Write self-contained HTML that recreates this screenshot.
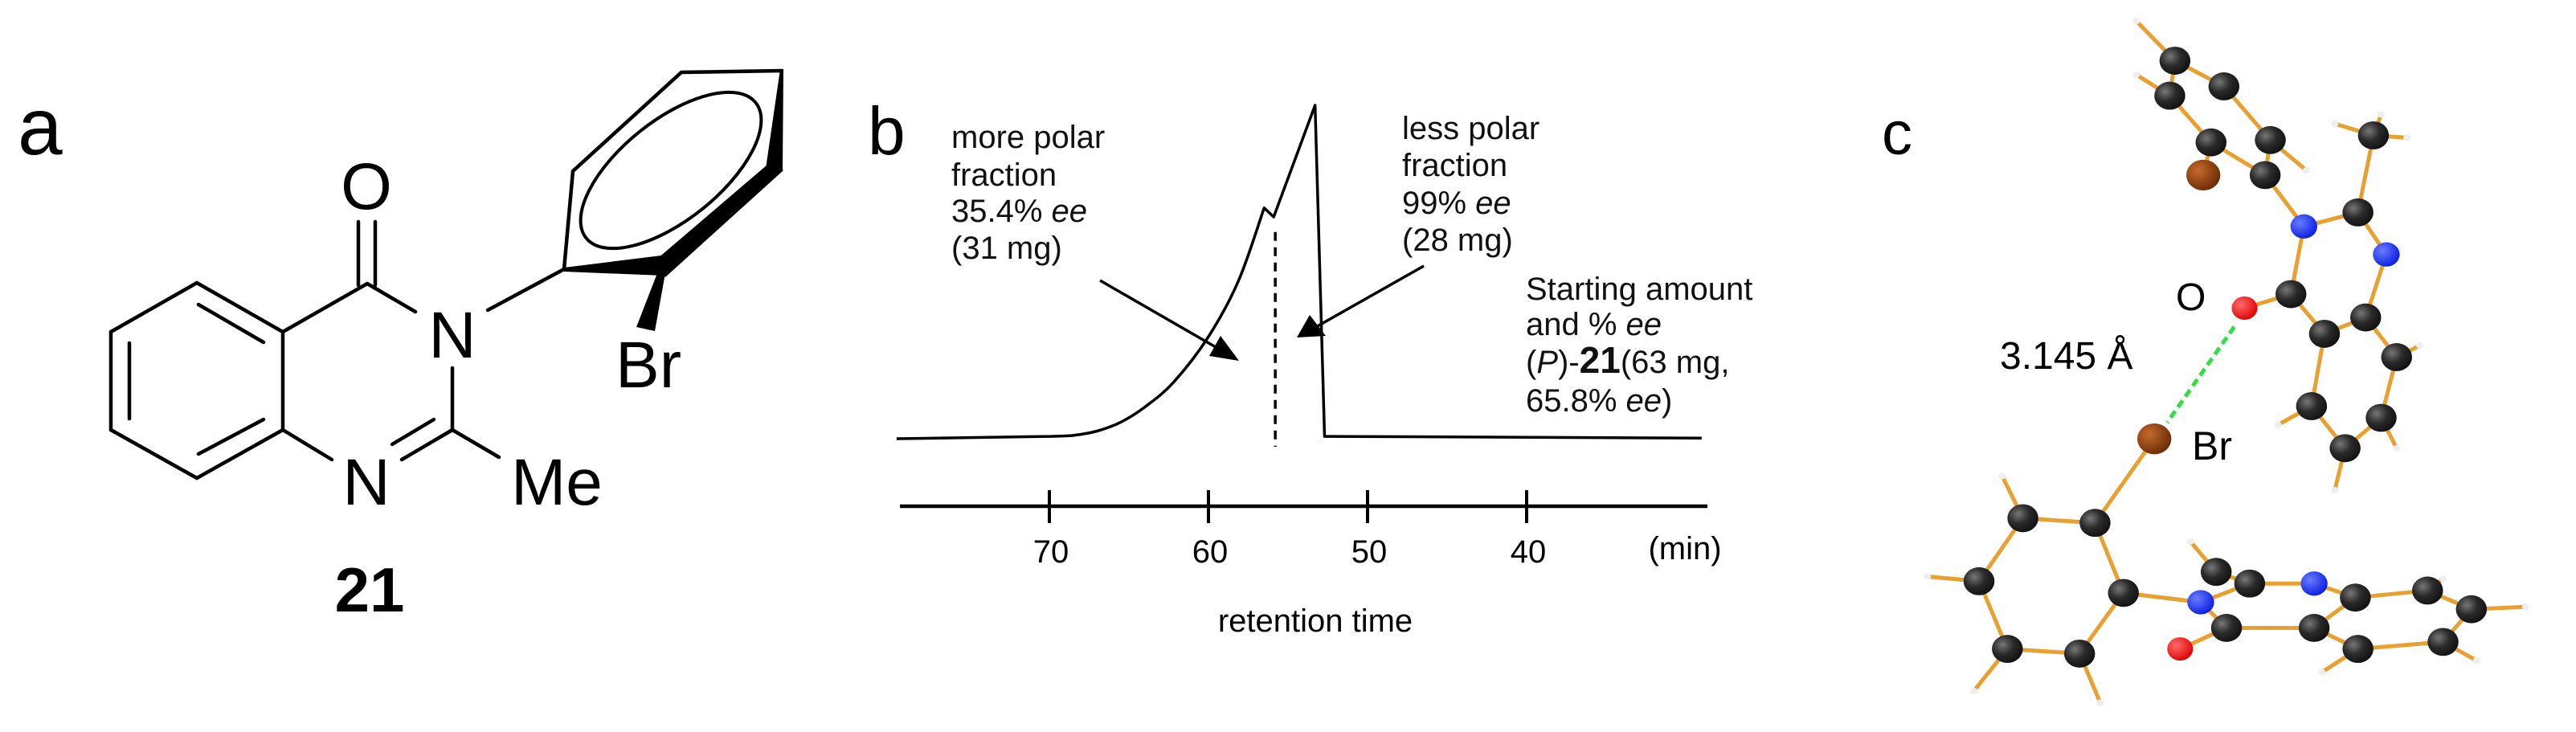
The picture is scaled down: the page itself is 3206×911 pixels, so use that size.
<!DOCTYPE html>
<html><head><meta charset="utf-8"><style>
html,body{margin:0;padding:0;background:#fff;}
svg{display:block;font-family:"Liberation Sans",Arial,sans-serif;}
</style></head><body>
<svg width="3206" height="911" viewBox="0 0 3206 911" xmlns="http://www.w3.org/2000/svg">
<defs>
<radialGradient id="gC" cx="0.35" cy="0.35" r="0.7"><stop offset="0" stop-color="#777"/><stop offset="0.5" stop-color="#2a2a2a"/><stop offset="1" stop-color="#111"/></radialGradient>
<radialGradient id="gN" cx="0.35" cy="0.35" r="0.7"><stop offset="0" stop-color="#6a7cff"/><stop offset="1" stop-color="#0a1ee0"/></radialGradient>
<radialGradient id="gO" cx="0.35" cy="0.35" r="0.7"><stop offset="0" stop-color="#ff6a6a"/><stop offset="1" stop-color="#e00000"/></radialGradient>
<radialGradient id="gBr" cx="0.35" cy="0.35" r="0.7"><stop offset="0" stop-color="#c46a2a"/><stop offset="1" stop-color="#6b2a05"/></radialGradient>
</defs>

<!-- PANEL A -->
<g>
<text x="22" y="192" font-size="100">a</text>
<g stroke="#000" stroke-width="4.5" fill="none" stroke-linecap="round">
<polygon points="138,413 245,352 352,413 352,535 245,595 138,535"/>
<line x1="161" y1="427" x2="161" y2="521"/>
<line x1="247" y1="379" x2="328" y2="426"/>
<line x1="247" y1="565" x2="328" y2="522"/>
<line x1="352" y1="413" x2="457" y2="353"/>
<line x1="457" y1="353" x2="517" y2="388"/>
<line x1="446" y1="355" x2="446" y2="276"/>
<line x1="467" y1="355" x2="467" y2="276"/>
<line x1="563" y1="458" x2="563" y2="535"/>
<line x1="563" y1="535" x2="500" y2="572"/>
<line x1="540" y1="522" x2="488" y2="553"/>
<line x1="352" y1="535" x2="413" y2="572"/>
<line x1="563" y1="535" x2="621" y2="569"/>
<line x1="607" y1="386" x2="702" y2="335"/>
<polyline points="702,335 713,213 848,90 973,88"/>
<ellipse cx="835" cy="212" rx="135" ry="62" transform="rotate(-38.6 835 212)" stroke-width="4"/>
</g>
<polygon points="702,333 823,318 826,343 702,338" fill="#000"/>
<polygon points="971,86 975,86 974,212 953,210" fill="#000"/>
<polygon points="955,205 975,212 828,345 818,322" fill="#000"/>
<polygon points="820,335 828,340 815,412 792,407" fill="#000"/>
<text x="456" y="260" font-size="82" text-anchor="middle">O</text>
<text x="563" y="445" font-size="82" text-anchor="middle">N</text>
<text x="456" y="628" font-size="82" text-anchor="middle">N</text>
<text x="636" y="628" font-size="82">Me</text>
<text x="766" y="482" font-size="82">Br</text>
<text x="460" y="761" font-size="78" font-weight="bold" text-anchor="middle">21</text>
</g>

<!-- PANEL B -->
<g>
<text x="1080" y="192" font-size="84">b</text>
<g id="chart"></g>
<g font-size="40" fill="#111">
<text x="1184" y="184">more polar</text>
<text x="1184" y="231">fraction</text>
<text x="1184" y="276">35.4% <tspan font-style="italic">ee</tspan></text>
<text x="1184" y="322">(31 mg)</text>
<text x="1745" y="173">less polar</text>
<text x="1745" y="219">fraction</text>
<text x="1745" y="266">99% <tspan font-style="italic">ee</tspan></text>
<text x="1745" y="312">(28 mg)</text>
<text x="1899" y="373">Starting amount</text>
<text x="1899" y="417">and % <tspan font-style="italic">ee</tspan></text>
<text x="1899" y="464">(<tspan font-style="italic">P</tspan>)-<tspan font-weight="bold" font-size="46">21</tspan>(63 mg,</text>
<text x="1899" y="512">65.8% <tspan font-style="italic">ee</tspan>)</text>
</g>
<g stroke="#000" stroke-width="3.5">
<line x1="1369" y1="349" x2="1520" y2="436"/>
<line x1="1772" y1="331" x2="1636" y2="408"/>
</g>
<polygon points="1542,449 1505,443 1519,418" fill="#000"/>
<polygon points="1614,420 1630,392 1650,418" fill="#000"/>
<text x="1637" y="786" font-size="40" text-anchor="middle">retention time</text>
<text x="2097" y="696" font-size="40" text-anchor="middle">(min)</text>
</g>

<!-- PANEL C -->
<g>
<text x="2342" y="192" font-size="76">c</text>
<g id="mol" transform="translate(2200,0) scale(0.6416,0.581)"></g>
<text x="2708" y="386" font-size="48">O</text>
<text x="2489" y="459" font-size="48">3.145 Å</text>
<text x="2728" y="572" font-size="50">Br</text>
</g>
</svg>
<script>
// Chromatogram data
const times = [79.6, 70.0, 68.5, 67.0, 65.5, 64.0, 62.2, 60.0, 58.1, 56.5, 55.9, 54.4, 53.3, 52.7, 29.0];
const signal = [0, 0.7, 1.0, 2.3, 5.0, 9.5, 16.9, 30.6, 47.5, 69.2, 66.5, 85.8, 100, 0.7, 0.2];
const tickValues = [70, 60, 50, 40];
const tickLabels = ["70", "60", "50", "40"];
const cutTime = [55.8];

const NS = "http://www.w3.org/2000/svg";
function xScale(t){ return 1306 + (70 - t) * 19.8; }
function yScale(v){ return 546 - v * 4.15; }
const chart = document.getElementById('chart');
function mk(tag, attrs){ const e = document.createElementNS(NS, tag); for (const k in attrs) e.setAttribute(k, attrs[k]); return e; }

const pts = times.map((t, i) => [xScale(t), yScale(signal[i])]);
// smooth segment from index 1 to 9 (Catmull-Rom), straight elsewhere
let d = 'M' + pts[0][0].toFixed(1) + ',' + pts[0][1].toFixed(1) + 'L' + pts[1][0].toFixed(1) + ',' + pts[1][1].toFixed(1);
for (let i = 1; i < 9; i++) {
  const p0 = pts[Math.max(i - 1, 1)], p1 = pts[i], p2 = pts[i + 1], p3 = pts[Math.min(i + 2, 9)];
  const c1 = [p1[0] + (p2[0] - p0[0]) / 6, p1[1] + (p2[1] - p0[1]) / 6];
  const c2 = [p2[0] - (p3[0] - p1[0]) / 6, p2[1] - (p3[1] - p1[1]) / 6];
  d += 'C' + c1[0].toFixed(1) + ',' + c1[1].toFixed(1) + ' ' + c2[0].toFixed(1) + ',' + c2[1].toFixed(1) + ' ' + p2[0].toFixed(1) + ',' + p2[1].toFixed(1);
}
for (let i = 10; i < pts.length; i++) d += 'L' + pts[i][0].toFixed(1) + ',' + pts[i][1].toFixed(1);
const trace = mk('path', {d: d, fill: 'none', stroke: '#000', 'stroke-width': 3.5, 'stroke-linejoin': 'round'});


chart.appendChild(trace);

const cut = mk('line', {x1: xScale(cutTime[0]), x2: xScale(cutTime[0]), y1: yScale(62), y2: 556, stroke: '#000', 'stroke-width': 3.5, 'stroke-dasharray': '11,8'});


chart.appendChild(cut);

const axis = mk('line', {x1: 1120, x2: 2125, y1: 630, y2: 630, stroke: '#000', 'stroke-width': 4.5});


chart.appendChild(axis);
tickValues.forEach((v, i) => {
  const tk = mk('line', {x1: xScale(v), x2: xScale(v), y1: 610, y2: 651, stroke: '#000', 'stroke-width': 4});
  
  
  chart.appendChild(tk);
  const lb = mk('text', {x: xScale(v) + 2, y: 700, 'font-size': 40, 'text-anchor': 'middle'});
  lb.textContent = tickLabels[i];
  
  
  chart.appendChild(lb);
});

// Molecule (panel c), coordinates in local frame
const mol = document.getElementById('mol');
const atoms = {
 h1:[715,45,'H'],c1:[790,130,'C'],h2:[715,160,'H'],c2:[780,205,'C'],c3:[885,185,'C'],c4:[860,305,'C'],c5:[975,300,'C'],br1:[845,375,'Br'],c6:[965,375,'C'],h3:[1045,365,'H'],
 n1:[1040,485,'N'],c7:[1145,455,'C'],cm:[1175,290,'C'],hm1:[1190,245,'H'],hm2:[1100,265,'H'],hm3:[1240,295,'H'],n2:[1200,545,'N'],c8:[1015,630,'C'],o1:[925,660,'O'],
 c9:[1160,680,'C'],c10:[1080,715,'C'],c11:[1220,765,'C'],c12:[1055,870,'C'],c13:[1190,895,'C'],c14:[1120,960,'C'],h4:[1265,740,'H'],h5:[990,910,'H'],h6:[1220,960,'H'],h7:[1100,1050,'H'],
 br2:[750,940,'Br'],ca:[635,1120,'C'],cb:[495,1110,'C'],cc:[410,1245,'C'],cd:[465,1390,'C'],ce:[605,1400,'C'],cf:[690,1270,'C'],nb:[840,1290,'N'],cmb:[870,1225,'C'],cg:[935,1250,'C'],
 nb2:[1060,1250,'N'],ch:[1140,1280,'C'],ci:[890,1345,'C'],o2:[800,1390,'O'],cj:[1060,1345,'C'],ck:[1145,1390,'C'],cl:[1280,1265,'C'],cm2:[1365,1305,'C'],cn:[1310,1375,'C'],
 hb1:[455,1020,'H'],hb2:[310,1235,'H'],hb3:[400,1480,'H'],hb4:[645,1505,'H'],hb5:[820,1160,'H'],hb6:[1470,1300,'H'],hb7:[1375,1415,'H'],hb8:[1075,1440,'H'],hb9:[1310,1240,'H']
};
const bonds = [['h1','c1'],['c1','c3'],['c3','c5'],['c5','c6'],['c6','c4'],['c4','c2'],['c2','c1'],['h2','c2'],['c4','br1'],['c5','h3'],['c6','n1'],['n1','c7'],['c7','cm'],['cm','hm1'],['cm','hm2'],['cm','hm3'],
 ['c7','n2'],['n1','c8'],['c8','o1'],['c8','c10'],['n2','c9'],['c9','c10'],['c9','c11'],['c11','c13'],['c13','c14'],['c14','c12'],['c12','c10'],['c11','h4'],['c12','h5'],['c13','h6'],['c14','h7'],
 ['br2','ca'],['ca','cb'],['cb','cc'],['cc','cd'],['cd','ce'],['ce','cf'],['cf','ca'],['cf','nb'],['nb','cg'],['nb','ci'],['cg','nb2'],['cg','cmb'],['nb2','ch'],['ch','cl'],['cl','cm2'],['cm2','cn'],['cn','ck'],['ck','cj'],['cj','ch'],['cj','ci'],['ci','o2'],
 ['cb','hb1'],['cc','hb2'],['cd','hb3'],['ce','hb4'],['cmb','hb5'],['cm2','hb6'],['cn','hb7'],['ck','hb8'],['cl','hb9']];
bonds.forEach(b => {
  const a = atoms[b[0]], c = atoms[b[1]];
  const l = mk('line', {x1: a[0], y1: a[1], x2: c[0], y2: c[1], stroke: '#e8a030', 'stroke-width': 5, 'vector-effect': 'non-scaling-stroke'});
  
  
  mol.appendChild(l);
});
const hb = mk('line', {x1: 905, y1: 700, x2: 775, y2: 905, stroke: '#33dd44', 'stroke-width': 5, 'stroke-dasharray': '10,6', 'vector-effect': 'non-scaling-stroke'});


mol.appendChild(hb);
const fills = {C: 'url(#gC)', N: 'url(#gN)', O: 'url(#gO)', Br: 'url(#gBr)', H: '#eeeeee'};
const radii = {C: 30, N: 26, O: 25, Br: 33, H: 7};
Object.keys(atoms).forEach(k => {
  const a = atoms[k];
  const c = mk('circle', {cx: a[0], cy: a[1], r: radii[a[2]], fill: fills[a[2]]});
  
  
  mol.appendChild(c);
});
</script>
</body></html>
